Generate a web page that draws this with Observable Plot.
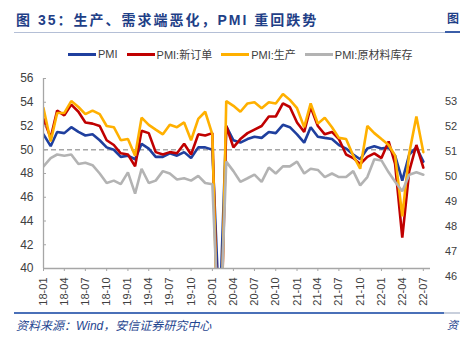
<!DOCTYPE html>
<html>
<head>
<meta charset="utf-8">
<script src="https://cdn.jsdelivr.net/npm/d3@7"></script>
<script src="https://cdn.jsdelivr.net/npm/@observablehq/plot@0.6"></script>
<style>
  html, body { margin: 0; padding: 0; background: #fff; }
  body { width: 460px; height: 340px; position: relative; overflow: hidden; font-family: "Liberation Sans", Arial, sans-serif; }
  .title { position: absolute; left: 16px; top: 9px; font-size: 14px; font-weight: bold; color: #1f3f87; letter-spacing: 2px; white-space: nowrap; font-family: "Liberation Sans", "Noto Sans CJK SC", sans-serif; }
  .title2 { position: absolute; left: 447px; top: 9px; font-size: 12px; font-weight: bold; color: #1f3f87; white-space: nowrap; font-family: "Noto Sans CJK SC", sans-serif; }
  .rule-top { position: absolute; left: 14px; top: 32px; width: 431px; height: 1px; background: #b4bfd6; }
  .rule-top2 { position: absolute; left: 445px; top: 31px; width: 15px; height: 2px; background: #3b5ea8; }
  .rule-bot { position: absolute; left: 14px; top: 312px; width: 430px; height: 2px; background: #4a70b8; }
  .rule-bot2 { position: absolute; left: 444px; top: 312px; width: 16px; height: 2px; background: #c8cfdc; }
  .source { position: absolute; left: 16px; top: 316px; font-size: 12px; font-style: italic; color: #1f4690; white-space: nowrap; font-family: "Liberation Sans", "Noto Sans CJK SC", sans-serif; }
  .source2 { position: absolute; left: 447px; top: 316px; font-size: 11px; font-style: italic; color: #1f4690; white-space: nowrap; font-family: "Noto Sans CJK SC", sans-serif; }
  .legend { position: absolute; left: 68px; top: 46px; display: flex; align-items: center; font-size: 11px; color: #404040; white-space: nowrap; font-family: "Liberation Sans", "Noto Sans CJK SC", sans-serif; }
  .legend .item { display: flex; align-items: center; margin-right: 9px; }
  .legend .sw { width: 28px; height: 3px; margin-right: 2px; }
  #chart { position: absolute; left: 0; top: 62px; }
  .rlab { position: absolute; left: 445px; font-size: 11px; color: #404040; font-family: "Liberation Sans", Arial, sans-serif; }
</style>
</head>
<body>
<div class="title">图 35：生产、需求端恶化，PMI 重回跌势</div>
<div class="title2">图</div>
<div class="rule-top"></div>
<div class="rule-top2"></div>
<div class="legend" id="legend"></div>
<div id="chart"></div>
<div id="rightlabels"></div>
<div class="rule-bot"></div>
<div class="rule-bot2"></div>
<div class="source">资料来源：Wind，安信证券研究中心</div>
<div class="source2">资</div>
<script>
// ---- data (2018-01 .. 2022-07, monthly) ----
const startMonth = "2018-01";
const pmi = [51.3,50.3,51.5,51.4,51.9,51.5,51.2,51.3,50.8,50.2,50.0,49.4,
             49.5,49.2,50.5,50.1,49.4,49.4,49.7,49.5,49.8,49.3,50.2,50.2,
             50.0,35.7,52.0,50.8,50.6,50.9,51.1,51.0,51.5,51.4,52.1,51.9,
             51.3,50.6,51.9,51.1,51.0,50.9,50.4,50.1,49.6,49.2,50.1,50.3,
             50.1,50.2,49.5,47.4,49.6,50.2,49.0];
const newOrders = [52.6,51.0,53.3,52.9,53.8,53.2,52.3,52.2,52.0,50.8,50.4,49.7,
                   49.6,48.6,51.6,51.4,49.8,49.6,49.8,49.7,50.5,49.6,51.3,51.2,
                   51.4,29.3,52.0,50.2,50.9,51.4,51.7,52.0,52.8,52.8,53.9,53.6,
                   52.3,51.5,53.6,52.0,51.3,51.5,50.9,49.6,49.3,48.8,49.4,49.7,
                   49.3,50.7,48.8,42.6,48.2,50.4,48.5];
const production = [53.5,50.7,53.1,53.1,54.1,53.6,53.0,53.3,53.0,52.0,51.9,50.8,
                    50.9,49.5,52.7,52.1,51.7,51.3,52.1,51.9,52.3,50.8,52.6,53.2,
                    51.3,27.8,54.1,53.7,53.2,53.9,54.0,53.5,54.0,53.9,54.7,54.2,
                    53.5,51.9,53.9,52.2,52.7,51.9,51.0,50.9,49.5,48.4,52.0,51.4,
                    50.9,50.4,49.5,44.4,49.7,52.8,49.8];
const inventory = [48.6,49.3,49.6,49.5,49.6,48.8,48.9,48.7,48.0,47.2,47.4,47.1,
                   48.1,46.3,48.4,47.2,47.4,48.2,48.0,47.5,47.6,47.4,47.8,47.2,
                   47.1,32.9,49.0,48.2,47.3,47.6,47.9,47.3,48.5,48.0,48.6,48.6,
                   49.0,48.0,48.4,48.3,47.7,48.0,47.7,47.7,48.2,47.0,47.7,49.2,
                   49.1,48.1,47.3,46.5,47.9,48.1,47.9];
const seriesNames = ["PMI", "PMI:新订单", "PMI:生产", "PMI:原材料库存"];
const seriesColors = ["#1f3f9e", "#c00000", "#ffb000", "#b3b3b3"];
const yTicks = [40,42,44,46,48,50,52,54,56];
const rightLabels = ["53","52","51","50","49","48","47","46"];

// ---- build ----
const t0 = d3.utcParse("%Y-%m")(startMonth);
const months = pmi.map((_, i) => d3.utcMonth.offset(t0, i));
const allSeries = [pmi, newOrders, production, inventory];
const rows = [];
allSeries.forEach((vals, s) => vals.forEach((v, i) => rows.push({date: months[i], value: v, series: seriesNames[s]})));

const legend = document.getElementById("legend");
seriesNames.forEach((n, i) => {
  const it = document.createElement("div");
  it.className = "item";
  it.innerHTML = `<span class="sw" style="background:${seriesColors[i]}"></span><span>${n}</span>`;
  legend.appendChild(it);
});

const xEnd = d3.utcMonth.offset(months[months.length - 1], 1);
const chart = Plot.plot({
  width: 460,
  height: 250,
  marginLeft: 43,
  marginRight: 30,
  marginTop: 16,
  marginBottom: 44,
  style: {fontFamily: "'Liberation Sans', Arial, sans-serif", fontSize: "12px", color: "#404040", background: "transparent"},
  x: {type: "utc", domain: [t0, xEnd]},
  y: {domain: [40, 56]},
  color: {domain: seriesNames, range: seriesColors},
  marks: [
    Plot.ruleY([50], {stroke: "#a6a6a6", strokeWidth: 1.6, strokeDasharray: "5,3"}),
    Plot.line(rows, {x: "date", y: "value", z: "series", stroke: "series", strokeWidth: 2.6, clip: true, strokeLinejoin: "miter"}),
    Plot.ruleY([40], {stroke: "#a6a6a6", strokeWidth: 1.3}),
    Plot.ruleX([t0], {stroke: "#a6a6a6", strokeWidth: 1.3}),
    Plot.axisY({ticks: yTicks, tickSize: -3, tickPadding: 13, stroke: "#a6a6a6", fontSize: 12, label: null}),
    Plot.axisX({ticks: d3.utcMonth.every(3), tickFormat: d3.utcFormat("%y-%m"), tickRotate: -90, tickSize: 3, tickPadding: 6, stroke: "#a6a6a6", fontSize: 11, label: null})
  ]
});
document.getElementById("chart").appendChild(chart);

const rl = document.getElementById("rightlabels");
rightLabels.forEach((t, i) => {
  const d = document.createElement("div");
  d.className = "rlab";
  d.style.top = (95 + i * 25) + "px";
  d.textContent = t;
  rl.appendChild(d);
});
</script>
</body>
</html>
